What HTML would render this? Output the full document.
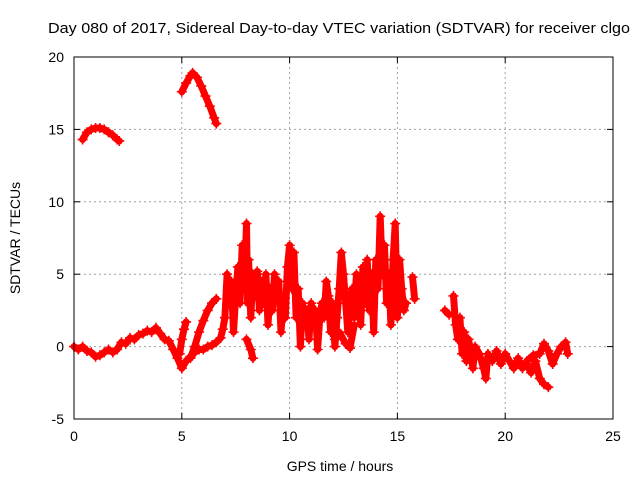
<!DOCTYPE html>
<html><head><meta charset="utf-8"><style>
html,body{margin:0;padding:0;background:#fff;}
svg{display:block;font-family:"Liberation Sans",sans-serif;}
</style></head><body>
<svg id="chart" width="640" height="480" viewBox="0 0 640 480">
<text x="339" y="33" font-size="15" text-anchor="middle" textLength="582" lengthAdjust="spacingAndGlyphs">Day 080 of 2017, Sidereal Day-to-day VTEC variation (SDTVAR) for receiver clgo</text>
<text x="340" y="471" font-size="14" text-anchor="middle">GPS time / hours</text>
<text transform="translate(20,238) rotate(-90)" font-size="14" text-anchor="middle">SDTVAR / TECUs</text>
<g id="grid"></g>
<g id="ticks"></g>
<g id="series"></g>
<rect x="74" y="57" width="539" height="362" fill="none" stroke="#000" stroke-width="1"/>
</svg>
<script>
const xTicks=[0,5,10,15,20,25];
const yTicks=[-5,0,5,10,15,20];
const segA=[[0.4,14.3],[0.6,14.8],[0.8,15.0],[1.0,15.1],[1.2,15.1],[1.4,15.0],[1.6,14.8],[1.8,14.6],[2.0,14.3],[2.1,14.2]];
const segB=[[5.0,17.6],[5.2,18.2],[5.4,18.7],[5.5,18.9],[5.7,18.6],[5.9,18.0],[6.1,17.3],[6.3,16.6],[6.5,15.8],[6.6,15.4]];
const segLow=[[0,0],[0.2,-0.2],[0.4,0],[0.6,-0.3],[0.8,-0.4],[1.0,-0.7],[1.2,-0.6],[1.4,-0.4],[1.6,-0.2],[1.8,-0.4],[2.0,-0.2],[2.2,0.3],[2.4,0.2],[2.6,0.6],[2.8,0.5],[3.0,0.8],[3.2,0.9],[3.4,1.1],[3.6,1.0],[3.8,1.3],[4.0,0.9],[4.2,0.5],[4.4,0.4],[4.6,-0.2],[4.8,-0.8],[5.0,-1.5],[5.2,-1.0],[5.4,-0.7],[5.6,-0.4],[5.8,-0.2],[6.0,-0.2],[6.2,0],[6.4,0.1],[6.6,0.3],[6.8,0.6],[6.9,1.2],[7.0,2.0]];
const segRamp=[[4.9,-0.5],[5.0,0.5],[5.1,1.2],[5.2,1.7],null,[5.4,-0.8],[5.6,0],[5.8,1.0],[6.0,1.8],[6.2,2.5],[6.4,3.0],[6.6,3.3]];
const segMid=[[7.0,2],[7.1,5],[7.2,3],[7.3,4.5],[7.4,1],[7.5,3.5],[7.6,5.5],[7.7,3],[7.8,7],[7.9,4],[8.0,8.5],[8.05,3],[8.1,6],[8.2,2],[8.3,5],[8.4,3.5],[8.5,5.2],[8.6,2.5],[8.7,4.5],[8.8,3],[8.9,5],[9.0,1.5],[9.1,4],[9.2,2.5],[9.3,5],[9.4,3.5],[9.5,4.5],[9.6,1],[9.7,3],[9.8,2],[9.9,5.5],[10.0,7],[10.1,4],[10.2,6.5],[10.3,2],[10.4,4],[10.5,0],[10.6,3],[10.7,1.5],[10.8,2.5],[10.9,0.5],[11.0,3],[11.1,1.5],[11.2,2.5],[11.3,-0.2],[11.4,2],[11.5,3],[11.6,2],[11.7,4.5],[11.8,3.5],[11.9,1],[12.0,3],[12.1,0],[12.2,2],[12.3,4],[12.4,6.5],[12.5,5],[12.6,3],[12.7,1],[12.8,2.5],[12.9,4],[13.0,2],[13.1,5],[13.2,3],[13.3,1.5],[13.4,5.5],[13.5,3],[13.6,6],[13.7,2.5],[13.8,5],[13.9,1],[14.0,6],[14.1,4],[14.2,9],[14.3,5],[14.4,7],[14.5,3],[14.6,5],[14.7,1.5],[14.8,6],[14.9,8.5],[15.0,2],[15.1,6],[15.2,4],[15.3,2.5],[15.4,3]];
const segMidLow=[[8.0,0.5],[8.2,-0.2],[8.3,-0.8],null,[12.1,0.5],[12.3,1],[12.6,0.2],[12.8,-0.1],[13.0,1.5]];
const segLate=[[15.7,4.8],[15.8,3.3],null,[17.2,2.5],[17.4,2.2],null,[17.6,3.5],[17.7,1.5],[17.8,0.5],[17.9,2],[18.0,-0.5],[18.1,1],[18.2,-1],[18.3,0.5],[18.4,-0.3],[18.5,-1.5],[18.6,0],[18.8,-0.5],[19.0,-1.5],[19.1,-2.2],[19.2,-0.5],[19.4,-1],[19.6,-0.3],[19.8,-1.2],[20.0,-0.5],[20.2,-1],[20.4,-1.5],[20.6,-0.8],[20.8,-1.5],[21.0,-1.2],[21.2,-1.8],[21.4,-1],[21.6,-2.2],[21.8,-2.6],[22.0,-2.8],null,[21.0,-1.0],[21.3,-0.6],[21.6,-0.5],[21.8,0.2],[22.0,-0.3],[22.2,-1.2],[22.4,-0.5],[22.6,0],[22.8,0.3],[22.9,-0.5]];
const X0=74,X1=613,Y0=419,Y1=57;
function sx(v){return X0+(v-0)/(25-0)*(X1-X0);}
function sy(v){return Y0-(v+5)/(25)*(Y0-Y1);}
const NS="http://www.w3.org/2000/svg";
const grid=document.getElementById('grid'),ticks=document.getElementById('ticks'),ser=document.getElementById('series');
function mk(t,a,p){const e=document.createElementNS(NS,t);for(const k in a)e.setAttribute(k,a[k]);p.appendChild(e);return e;}
xTicks.forEach(v=>{const x=sx(v);
 if(v>0&&v<25){const g=mk('line',{x1:x,y1:Y0,x2:x,y2:Y1,stroke:'#a0a0a0','stroke-dasharray':'2,3'},grid);
 
 }
 mk('line',{x1:x,y1:Y0,x2:x,y2:Y0-6,stroke:'#000'},ticks);mk('line',{x1:x,y1:Y1,x2:x,y2:Y1+6,stroke:'#000'},ticks);
 const t=mk('text',{x:x,y:Y0+22,'font-size':14,'text-anchor':'middle'},ticks);t.textContent=v;
 
 });
yTicks.forEach(v=>{const y=sy(v);
 if(v>-5&&v<20){const g=mk('line',{x1:X0,y1:y,x2:X1,y2:y,stroke:'#a0a0a0','stroke-dasharray':'2,3'},grid);
 
 }
 mk('line',{x1:X0,y1:y,x2:X0+6,y2:y,stroke:'#000'},ticks);mk('line',{x1:X1,y1:y,x2:X1-6,y2:y,stroke:'#000'},ticks);
 const t=mk('text',{x:X0-10,y:y+5,'font-size':14,'text-anchor':'end'},ticks);t.textContent=v;
 
 });
function draw(seg,name){
 let d='',start=true;
 seg.forEach(p=>{if(!p){start=true;return;}d+=(start?'M':'L')+sx(p[0]).toFixed(1)+','+sy(p[1]).toFixed(1);start=false;});
 const path=mk('path',{d:d,fill:'none',stroke:'#ff0000','stroke-width':7,'stroke-linejoin':'round','stroke-linecap':'round'},ser);
 
 
 seg.forEach(p=>{if(!p)return;const x=sx(p[0]),y=sy(p[1]);
  const m=mk('path',{d:`M${x-5},${y}H${x+5}M${x},${y-5}V${y+5}`,stroke:'#ff0000','stroke-width':1.6},ser);
  
  });
}
draw(segA,'arc-a');draw(segB,'arc-b');draw(segLow,'low');draw(segRamp,'ramp');draw(segMid,'mid');draw(segMidLow,'mid-low');draw(segLate,'late');
</script>
</body></html>
